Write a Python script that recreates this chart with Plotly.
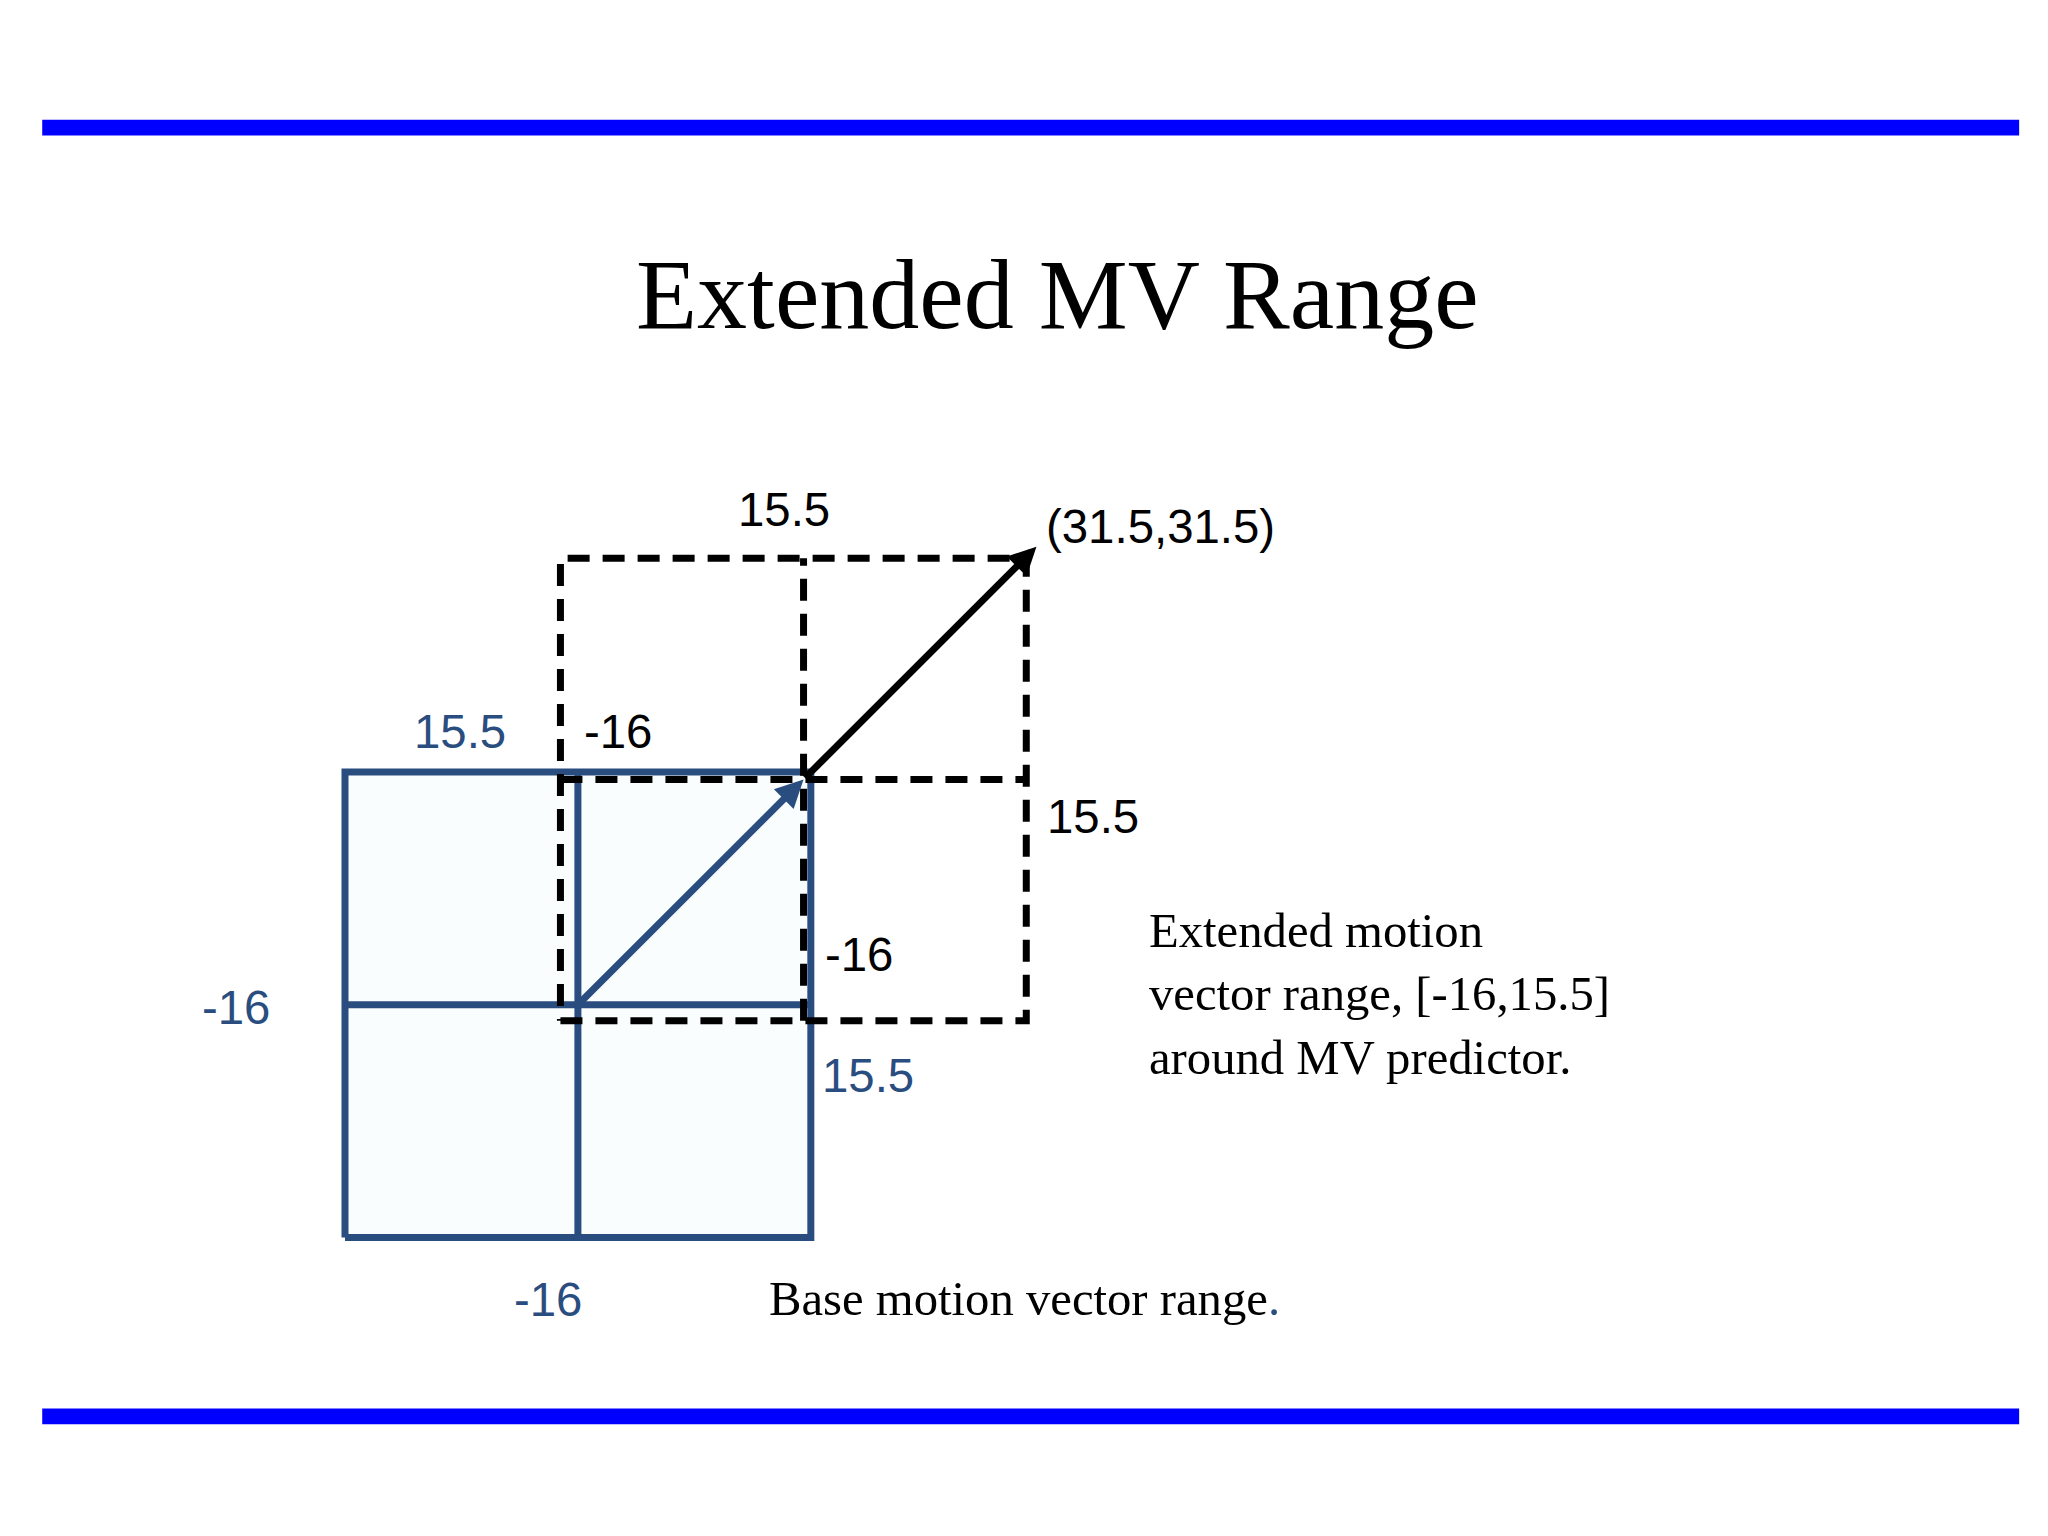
import plotly.graph_objects as go

S = 2048/1556
U = 11.06  # px per MV unit (reference scale)
# base range grid (MV units)
base_lo, base_hi = -16, 16
# extended range box
ext_x = [-1.2, 30.8]; ext_y = [-1.1, 30.7]
ext_mid = 15.5
pred = (15.5, 15.5)
ext_end = (31.5, 31.5)

def px2u(px): return (px-433)/U
def py2v(py): return (758-py)/U

blue = "#2a4d80"
fig = go.Figure()
fig.add_trace(go.Scatter(x=[base_lo, base_hi, base_hi, base_lo, base_lo], y=[base_lo, base_lo, base_hi, base_hi, base_lo],
    mode="lines", line=dict(color=blue, width=7), fill="toself", fillcolor="rgba(240,248,248,0.3)", hoverinfo="skip"))
fig.add_trace(go.Scatter(x=[0, 0, None, base_lo, base_hi], y=[base_lo, base_hi, None, 0, 0], mode="lines", line=dict(color=blue, width=7)))
fig.add_trace(go.Scatter(x=[ext_x[0], ext_x[1], ext_x[1], ext_x[0], ext_x[0], None, ext_mid, ext_mid, None, ext_x[0], ext_x[1]],
    y=[ext_y[0], ext_y[0], ext_y[1], ext_y[1], ext_y[0], None, ext_y[0], ext_y[1], None, ext_mid, ext_mid],
    mode="lines", line=dict(color="black", width=7, dash="22px,13px")))
fig.update_layout(showlegend=False)
fig.add_annotation(x=pred[0], y=pred[1], ax=0, ay=0, xref="x", yref="y", axref="x", ayref="y",
    showarrow=True, arrowhead=2, arrowsize=0.8, arrowwidth=7, arrowcolor=blue, text="")
fig.add_annotation(x=ext_end[0], y=ext_end[1], ax=pred[0], ay=pred[1], xref="x", yref="y", axref="x", ayref="y",
    showarrow=True, arrowhead=2, arrowsize=0.8, arrowwidth=7, arrowcolor="black", text="")

def txt(px, py, s, color="black", size=36, font="Liberation Sans", anchor="left"):
    fig.add_annotation(x=px2u(px), y=py2v(py), text=s, showarrow=False, xanchor=anchor, align="left",
        font=dict(family=font, size=size*S, color=color))

txt(553, 381, "15.5")
txt(787, 394, "(31.5,31.5)")
txt(436, 550, "-16")
txt(788, 615, "15.5")
txt(619, 720, "-16")
txt(307, 550, "15.5", blue)
txt(146, 760, "-16", blue)
txt(617, 812, "15.5", blue)
txt(383, 982, "-16", blue)
txt(865, 750, "Extended motion<br>vector range, [-16,15.5]<br>around MV predictor.", size=37, font="Liberation Serif")
txt(577, 982, "Base motion vector range<span style='color:%s'>.</span>" % blue, size=37, font="Liberation Serif")
txt(797, 218, "Extended MV Range", size=76, font="Liberation Serif", anchor="center")

for y in [91, 1071]:
    fig.add_shape(type="line", xref="paper", yref="y", x0=26/1556, x1=1528/1556, y0=py2v(y), y1=py2v(y),
        line=dict(color="#0000ff", width=12*S))

fig.update_xaxes(range=[px2u(0), px2u(1556)], visible=False)
fig.update_yaxes(range=[py2v(1168), py2v(0)], visible=False)
fig.update_layout(width=2048, height=1536, margin=dict(l=0, r=0, t=0, b=0),
    plot_bgcolor="white", paper_bgcolor="white")
fig.write_html("out.html")
